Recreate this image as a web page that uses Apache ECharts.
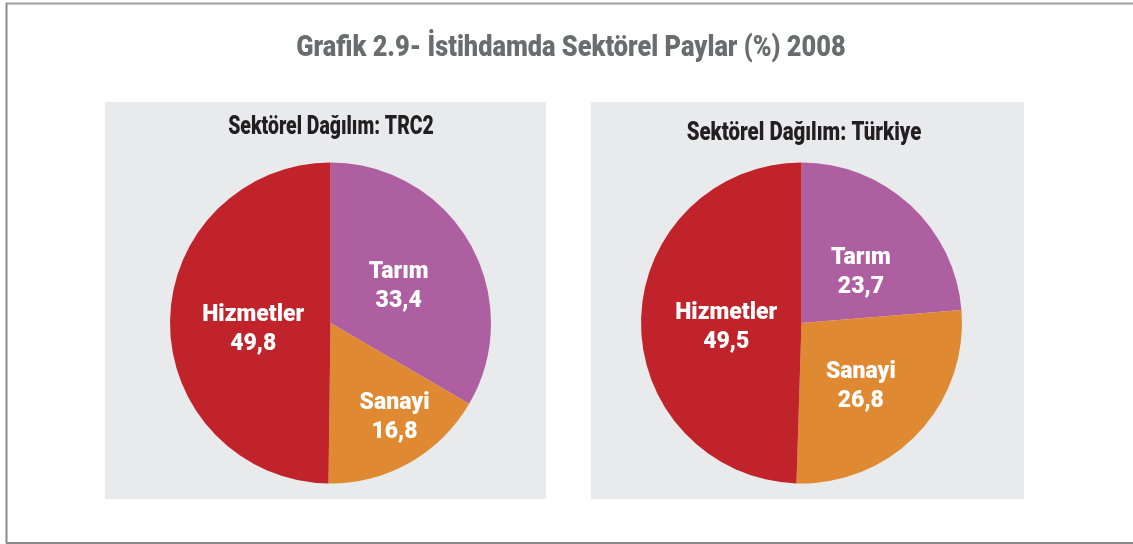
<!DOCTYPE html>
<html>
<head>
<meta charset="utf-8">
<script src="https://cdn.jsdelivr.net/npm/echarts@6/dist/echarts.min.js"></script>
<style>
html, body { margin: 0; padding: 0; background: #fff; }
#chart { width: 1133px; height: 544px; }
</style>
</head>
<body>
<div id="chart"></div>
<script>
// sektör isimleri ve değerleri
var sectors = ['Tarım', 'Sanayi', 'Hizmetler'];
var trc2Values = [33.4, 16.8, 49.8];
var turkiyeValues = [23.7, 26.8, 49.5];
var sectorColors = ['#ad5fa2', '#df8a32', '#c1232a'];

// başlıklar
var mainTitle = 'Grafik 2.9- İstihdamda Sektörel Paylar (%) 2008';
var panelTitles = ['Sektörel Dağılım: TRC2', 'Sektörel Dağılım: Türkiye'];

// etiketlerin ince kaydırması (seri, dilim)
var labelShift = [
	[[-4, 5], [23, 22], [6, 7]],
	[[3, 11], [-1, 6], [8, 6]]
];

var fontFamily = 'Roboto, "Liberation Sans", sans-serif';

function toData(values) {
	return sectors.map(function (name, i) {
		return { name: name, value: values[i], itemStyle: { color: sectorColors[i] } };
	});
}

function pieSeries(values, cx) {
	return {
		type: 'pie',
		center: [cx, 323],
		radius: 160.5,
		startAngle: 90,
		clockwise: true,
		silent: true,
		animation: false,
		label: {
			show: true,
			position: 'inside',
			color: '#fff',
			fontFamily: fontFamily,
			fontWeight: 900,
			fontSize: 23,
			lineHeight: 29,
			formatter: function (p) {
				return p.name + '\n' + p.value.toFixed(1).replace('.', ',');
			}
		},
		labelLine: { show: false },
		labelLayout: function (params) {
			var s = labelShift[params.seriesIndex][params.dataIndex];
			return { dx: s[0], dy: s[1] };
		},
		data: toData(values)
	};
}

// dar (condensed) görünüm için yatayda sıkıştırılmış başlık
function headText(text, x, y, size, color, sx) {
	return {
		type: 'text',
		x: x,
		y: y,
		scaleX: sx,
		z: 10,
		style: {
			text: text,
			x: 0,
			y: 0,
			fill: color,
			font: '900 ' + size + 'px ' + fontFamily,
			textAlign: 'center',
			textVerticalAlign: 'middle'
		}
	};
}

var myChart = echarts.init(document.getElementById('chart'));
myChart.setOption({
	backgroundColor: '#fff',
	graphic: [
		{ type: 'rect', shape: { x: 105, y: 102, width: 441, height: 397 }, style: { fill: '#e9eaeb' }, z: -10 },
		{ type: 'rect', shape: { x: 591, y: 102, width: 433, height: 397 }, style: { fill: '#e9eaeb' }, z: -10 },
		{ type: 'line', shape: { x1: 6, y1: 3.5, x2: 1133, y2: 3.5 }, style: { stroke: '#a0a0a0', lineWidth: 2 } },
		{ type: 'line', shape: { x1: 6.5, y1: 3, x2: 6.5, y2: 543.5 }, style: { stroke: '#8a8a8a', lineWidth: 2 } },
		{ type: 'line', shape: { x1: 6, y1: 543, x2: 1133, y2: 543 }, style: { stroke: '#8a8a8a', lineWidth: 2 } },
		headText(mainTitle, 571, 49, 29, '#6b6c6f', 0.875),
		headText(panelTitles[0], 331, 128, 25, '#231f20', 0.778),
		headText(panelTitles[1], 804, 134, 25, '#231f20', 0.818)
	],
	series: [
		pieSeries(trc2Values, 330.5),
		pieSeries(turkiyeValues, 801.5)
	]
});

window.onresize = function () {
	myChart.resize();
};
</script>
</body>
</html>
